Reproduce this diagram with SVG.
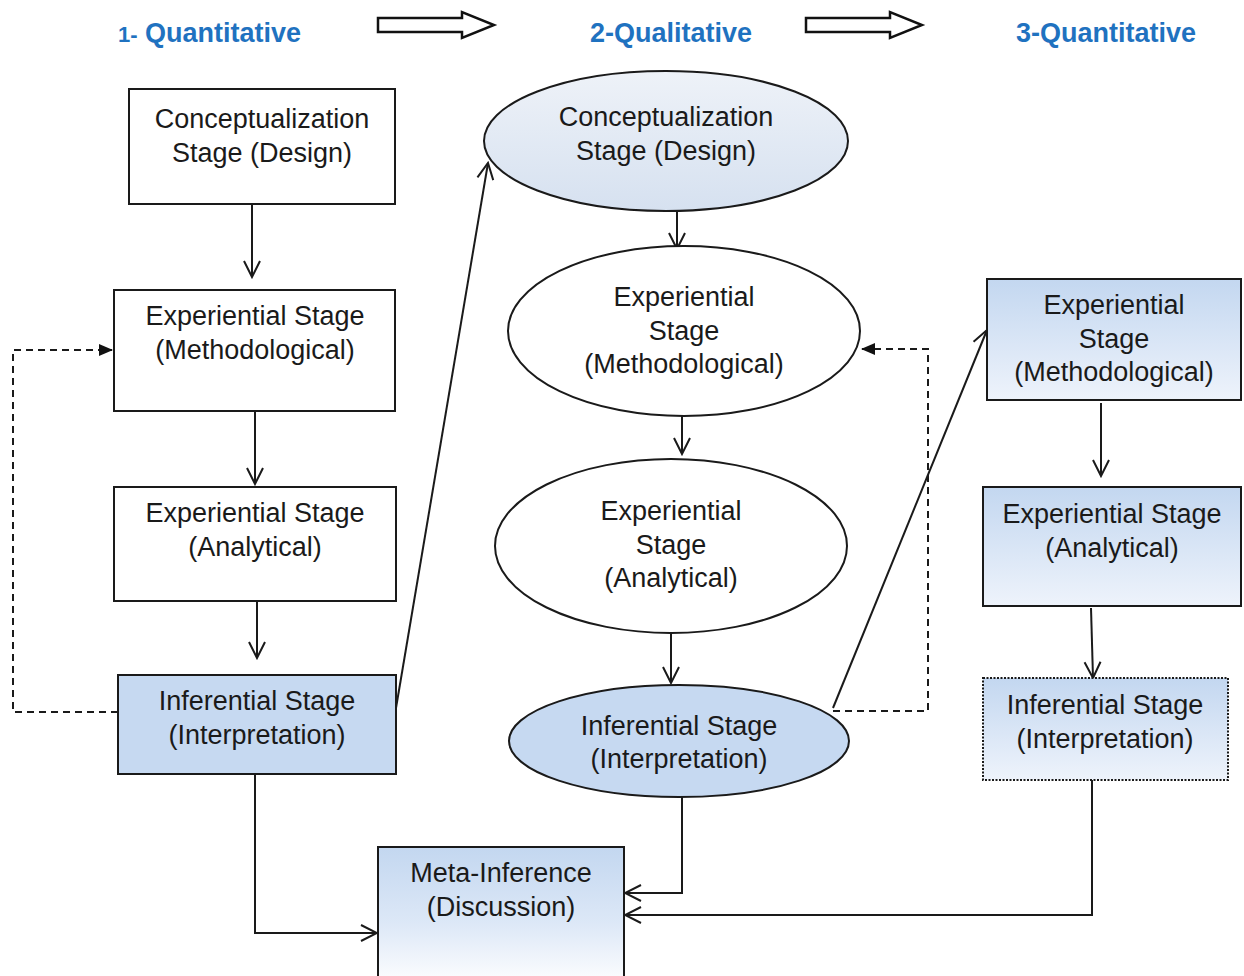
<svg xmlns="http://www.w3.org/2000/svg" width="1244" height="976" viewBox="0 0 1244 976">
<style>
text{font-family:"Liberation Sans",Arial,sans-serif;font-size:27px;fill:#1a1a1a;text-anchor:middle}
.hd{font-weight:bold;fill:#1f72c0;font-size:27px;text-anchor:start}
.box{stroke:#1a1a1a;stroke-width:2}
.ln{fill:none;stroke:#1a1a1a;stroke-width:2}
.ds{fill:none;stroke:#1a1a1a;stroke-width:2;stroke-dasharray:7,5}
</style>
<defs>
<marker id="open" viewBox="0 0 20 20" refX="18" refY="10" markerWidth="20" markerHeight="20" markerUnits="userSpaceOnUse" orient="auto">
<path d="M2,2 L18,10 L2,18" fill="none" stroke="#1a1a1a" stroke-width="2"/>
</marker>
<marker id="solid" viewBox="0 0 14 14" refX="13" refY="7" markerWidth="14" markerHeight="14" markerUnits="userSpaceOnUse" orient="auto">
<path d="M0,1 L14,7 L0,13 Z" fill="#111"/>
</marker>
<linearGradient id="g1" x1="0" y1="0" x2="0" y2="1">
<stop offset="0" stop-color="#c3d7f0"/><stop offset="1" stop-color="#eef3fb"/>
</linearGradient>
<linearGradient id="g2" x1="0" y1="0" x2="0" y2="1">
<stop offset="0" stop-color="#c3d7f0"/><stop offset="0.55" stop-color="#dde8f7"/><stop offset="1" stop-color="#ffffff"/>
</linearGradient>
<linearGradient id="g3" x1="0" y1="0" x2="0" y2="1">
<stop offset="0" stop-color="#eef2f8"/><stop offset="1" stop-color="#d6e1f0"/>
</linearGradient>
</defs>

<g id="headers">
<text class="hd" x="118" y="42"><tspan font-size="22">1-</tspan> Quantitative</text>
<text class="hd" x="590" y="42">2-Qualitative</text>
<text class="hd" x="1016" y="42">3-Quantitative</text>
<path d="M378,18 H462 V12 L494,25 L462,38 V32 H378 Z" fill="#fff" stroke="#111" stroke-width="2.5"/>
<path d="M806,18 H890 V12 L922,25 L890,38 V32 H806 Z" fill="#fff" stroke="#111" stroke-width="2.5"/>
</g>

<g id="connectors">
<path class="ln" d="M252,204 V277" marker-end="url(#open)"/>
<path class="ln" d="M255,411 V484" marker-end="url(#open)"/>
<path class="ln" d="M257,601 V658" marker-end="url(#open)"/>
<path class="ds" d="M118,712 H13 V350 H112" marker-end="url(#solid)"/>
<path class="ln" d="M396,708 L488,163" marker-end="url(#open)"/>
<path class="ln" d="M677,211 V249" marker-end="url(#open)"/>
<path class="ln" d="M682,416 V454" marker-end="url(#open)"/>
<path class="ln" d="M671,633 V683" marker-end="url(#open)"/>
<path class="ds" d="M833,711 H928 V349 H862" marker-end="url(#solid)"/>
<path class="ln" d="M833,708 L987,330" marker-end="url(#open)"/>
<path class="ln" d="M1101,403 V476" marker-end="url(#open)"/>
<path class="ln" d="M1091,608 L1093,678" marker-end="url(#open)"/>
<path class="ln" d="M255,774 V933 H377" marker-end="url(#open)"/>
<path class="ln" d="M682,797 V893 H625" marker-end="url(#open)"/>
<path class="ln" d="M1092,780 V915 H625" marker-end="url(#open)"/>
</g>

<g id="q1-concept">
<rect class="box" x="129" y="89" width="266" height="115" fill="#fff"/>
<text x="262" y="128">Conceptualization</text>
<text x="262" y="162">Stage (Design)</text>
</g>
<g id="q1-method">
<rect class="box" x="114" y="290" width="281" height="121" fill="#fff"/>
<text x="255" y="325">Experiential Stage</text>
<text x="255" y="359">(Methodological)</text>
</g>
<g id="q1-analytic">
<rect class="box" x="114" y="487" width="282" height="114" fill="#fff"/>
<text x="255" y="522">Experiential Stage</text>
<text x="255" y="556">(Analytical)</text>
</g>
<g id="q1-infer">
<rect class="box" x="118" y="675" width="278" height="99" fill="#c6d9f1"/>
<text x="257" y="710">Inferential Stage</text>
<text x="257" y="744">(Interpretation)</text>
</g>

<g id="ql-concept">
<ellipse class="box" cx="666" cy="141" rx="182" ry="70" fill="url(#g3)"/>
<text x="666" y="126">Conceptualization</text>
<text x="666" y="160">Stage (Design)</text>
</g>
<g id="ql-method">
<ellipse class="box" cx="684" cy="331" rx="176" ry="85" fill="#fff"/>
<text x="684" y="306">Experiential</text>
<text x="684" y="340">Stage</text>
<text x="684" y="373">(Methodological)</text>
</g>
<g id="ql-analytic">
<ellipse class="box" cx="671" cy="546" rx="176" ry="87" fill="#fff"/>
<text x="671" y="520">Experiential</text>
<text x="671" y="554">Stage</text>
<text x="671" y="587">(Analytical)</text>
</g>
<g id="ql-infer">
<ellipse class="box" cx="679" cy="741" rx="170" ry="56" fill="#c6d9f1"/>
<text x="679" y="735">Inferential Stage</text>
<text x="679" y="768">(Interpretation)</text>
</g>

<g id="q3-method">
<rect class="box" x="987" y="279" width="254" height="121" fill="url(#g1)"/>
<text x="1114" y="314">Experiential</text>
<text x="1114" y="348">Stage</text>
<text x="1114" y="381">(Methodological)</text>
</g>
<g id="q3-analytic">
<rect class="box" x="983" y="487" width="258" height="119" fill="url(#g1)"/>
<text x="1112" y="523">Experiential Stage</text>
<text x="1112" y="557">(Analytical)</text>
</g>
<g id="q3-infer">
<rect x="983" y="678" width="245" height="102" fill="url(#g1)" stroke="#1a1a1a" stroke-width="2" stroke-dasharray="2,1.5"/>
<text x="1105" y="714">Inferential Stage</text>
<text x="1105" y="748">(Interpretation)</text>
</g>

<g id="meta">
<rect class="box" x="378" y="847" width="246" height="140" fill="url(#g2)"/>
<text x="501" y="882">Meta-Inference</text>
<text x="501" y="916">(Discussion)</text>
</g>
</svg>
